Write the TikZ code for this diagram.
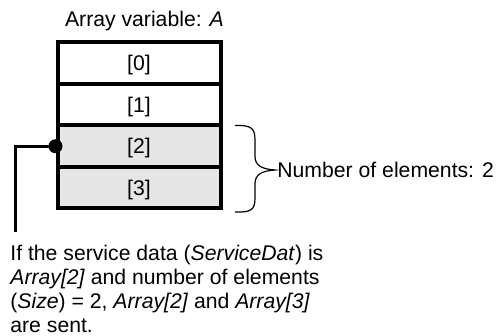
\documentclass[tikz,border=0pt]{standalone}
\usepackage{fontspec}
\setmainfont{Liberation Sans}
\usepackage{xcolor}
\usetikzlibrary{arrows.meta,positioning,calc}
\definecolor{cellgray}{HTML}{E6E6E6}

\begin{document}
\begin{tikzpicture}[x=0.5pt,y=-0.5pt,
  font=\fontsize{10.6}{12}\selectfont,
  cell/.style={draw,line width=2pt,minimum width=81.5pt,minimum height=20.75pt,inner sep=0pt,text depth=0pt,text height=7.5pt},
  sel/.style={cell,fill=cellgray}]
  \useasboundingbox (0,0) rectangle (498,336);
  \node[anchor=base west](title)at(58,27){Array variable: \textit{A}};
  \node[cell](c0)at(139,63.25){[0]};\node[cell](c1)at(139,104.75){[1]};
  \node[sel](c2)at(139,146.25){[2]};\node[sel](c3)at(139,187.75){[3]};
  % pointer to the first element sent
  \node[circle,fill,inner sep=0pt,minimum size=7pt](dot)at(c2.west){};
  \coordinate(tail)at(15.7,232);
  \draw[line width=1.5pt](dot.center)-|(tail);
  % brace over the sent elements
  \node[anchor=west,inner sep=1pt](nelem)at(275,170){Number of elements: 2};
  \draw[line width=0.6pt](235,125.5)..controls(251,125)and(255,128)..(255,140)--(255,156)
    ..controls(255,166)and(262,169)..(nelem.west)
    ..controls(262,171)and(255,174)..(255,184)--(255,198)
    ..controls(255,210)and(251,212.5)..(235,212);
  \node[anchor=north west,align=left,inner sep=0pt](note)at(10,245){If the service data (\textit{ServiceDat}) is\\
    \textit{Array[2]} and number of elements\\
    (\textit{Size}) = 2, \textit{Array[2]} and \textit{Array[3]}\\
    are sent.};
\end{tikzpicture}
\end{document}
